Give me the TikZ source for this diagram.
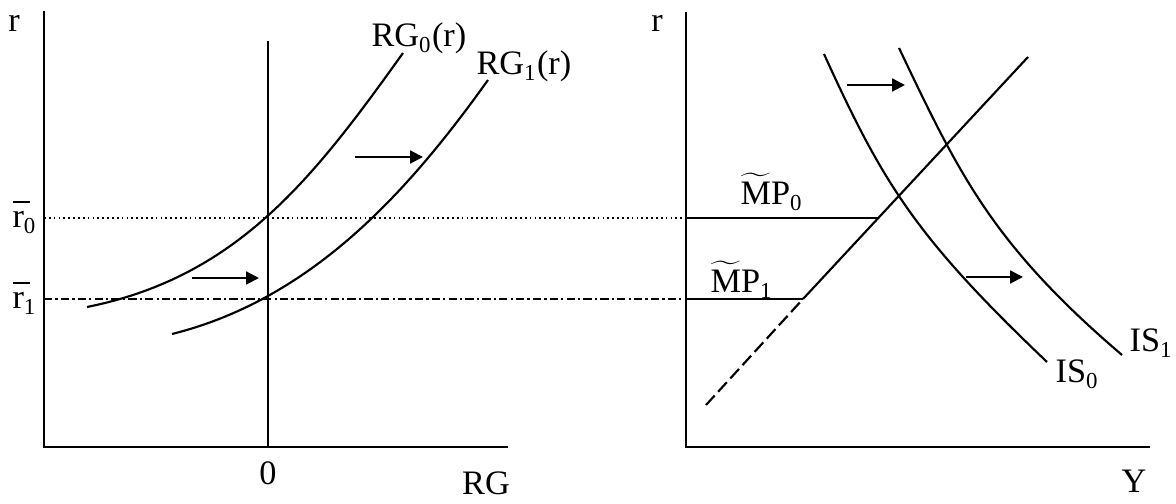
\documentclass[tikz,border=0pt]{standalone}
\usepackage{fontspec}
\setmainfont{Liberation Serif}
\usetikzlibrary{arrows.meta}

\begin{document}
\begin{tikzpicture}[
    x=0.35pt, y=-0.35pt,
    font=\fontsize{12}{14}\selectfont,
    axis/.style={line width=0.95pt},
    curve/.style={line width=0.75pt},
    mpline/.style={line width=0.9pt},
    levelzero/.style={line width=0.5pt, dash pattern=on 0.6pt off 1.1pt},
    levelone/.style={line width=0.7pt, dash pattern=on 2.9pt off 1.1pt on 0.8pt off 1.1pt},
    dashpart/.style={line width=0.75pt, dash pattern=on 4.5pt off 1.8pt},
    shiftarrow/.style={-{Triangle[length=4.5pt,width=4.5pt]}, line width=0.75pt},
    lbl/.style={anchor=base west, inner sep=0pt},
    clbl/.style={anchor=base, inner sep=0pt}
]
\useasboundingbox (0,0) rectangle (1176,504);

% Coordinates
\coordinate (l_top) at (44,11);
\coordinate (l_orig) at (44,447);
\coordinate (l_end) at (508,447);
\coordinate (zero_top) at (268,41);
\coordinate (zero_bot) at (268,447);
\coordinate (r_top) at (686,12);
\coordinate (r_orig) at (686,447);
\coordinate (r_end) at (1150,447);
\coordinate (rz_left) at (44,218);
\coordinate (rz_right) at (686,218);
\coordinate (ro_left) at (44,299);
\coordinate (ro_right) at (686,299);
\coordinate (mp_zero) at (878,218);
\coordinate (mp_one) at (803,299);
\coordinate (mp_low) at (706,405);
\coordinate (mp_high) at (1028,57);

% Axes
\draw[axis] (l_top) -- (l_orig) -- (l_end);
\draw[curve] (zero_top) -- (zero_bot);
\draw[axis] (r_top) -- (r_orig) -- (r_end);

% Interest rate levels
\draw[levelzero] (rz_left) -- (rz_right);
\draw[levelone] (ro_left) -- (ro_right);
\draw[mpline] (rz_right) -- (mp_zero);
\draw[mpline] (ro_right) -- (mp_one);
\draw[curve] (mp_one) -- (mp_high);
\draw[dashpart] (mp_low) -- (mp_one);

% Curves
\draw[curve] (87,307) .. controls (237,277) and (313,179) .. (403,53);
\draw[curve] (172,334) .. controls (312,299) and (408,192) .. (488,80);
\draw[curve] (824,54) .. controls (884,186) and (917,238) .. (1047,362);
\draw[curve] (899,48) .. controls (959,174) and (992,244) .. (1122,355);

% Arrows
\coordinate (rg_a1) at (192,278);
\coordinate (rg_b1) at (259,278);
\coordinate (rg_a2) at (355,157);
\coordinate (rg_b2) at (423,157);
\coordinate (is_a1) at (847,85);
\coordinate (is_b1) at (905,85);
\coordinate (is_a2) at (966,277);
\coordinate (is_b2) at (1023,277);
\draw[shiftarrow] (rg_a1) -- (rg_b1);
\draw[shiftarrow] (rg_a2) -- (rg_b2);
\draw[shiftarrow] (is_a1) -- (is_b1);
\draw[shiftarrow] (is_a2) -- (is_b2);

% Labels
\node[clbl] (r_left) at (14,32) {r};
\node[clbl] (r_right) at (657,32) {r};
\node[clbl] (zero_lbl) at (268,485) {0};
\node[clbl] (rg_lbl) at (486,495) {RG};
\node[clbl] (y_lbl) at (1134,493) {Y};
\node[lbl] (rbar_zero) at (12,228) {\mbox{\rlap{\rule[0.74em]{0.52em}{0.6pt}}r}\textsubscript{0}};
\node[lbl] (rbar_one) at (12,309) {\mbox{\rlap{\rule[0.74em]{0.52em}{0.6pt}}r}\textsubscript{1}};
\node[lbl] (rg_zero) at (371,47) {RG\textsubscript{0}(r)};
\node[lbl] (rg_one) at (476,75) {RG\textsubscript{1}(r)};
\node[lbl] (mp_zero_lbl) at (740,205) {$\widetilde{\mbox{M}}$P\textsubscript{0}};
\node[lbl] (mp_one_lbl) at (710,293) {$\widetilde{\mbox{M}}$P\textsubscript{1}};
\node[lbl] (is_zero) at (1055,383) {IS\textsubscript{0}};
\node[lbl] (is_one) at (1129,352) {IS\textsubscript{1}};

\end{tikzpicture}
\end{document}
